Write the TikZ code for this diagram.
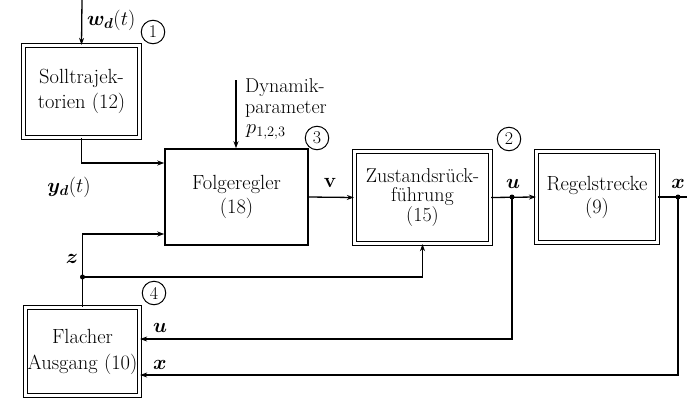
\RequirePackage{fix-cm}
\documentclass[tikz,border=0pt]{standalone}
\usepackage{amsmath,bm}
\usetikzlibrary{arrows.meta,calc}
\begin{document}
\begin{tikzpicture}[x=1pt,y=-1pt,
  every node/.style={font=\fontsize{20.5}{24.5}\selectfont},
  blockone/.style={draw,line width=1.5pt,align=center,inner sep=0pt},
  blocktwo/.style={draw,double,double distance=2.8pt,line width=1.3pt,align=center,inner sep=0pt},
  wire/.style={line width=1.3pt},
  arr/.style={wire,-{Stealth[length=7pt,width=5pt]}},
  numcirc/.style={draw,circle,line width=1pt,minimum size=23.5pt,inner sep=0pt,font=\fontsize{18}{18}\selectfont},
  lab/.style={inner sep=0pt},
  jdot/.style={circle,fill,inner sep=0pt,minimum size=5pt}]
\useasboundingbox (0,0) rectangle (687,399);
% blocks
\node[blocktwo,minimum width=116pt,minimum height=92pt] (sol) at (81.5,91.5) {Solltrajek-\\torien (12)};
\node[blockone,minimum width=143pt,minimum height=96pt] (fol) at (236.5,197) {Folgeregler\\(18)};
\node[blocktwo,minimum width=136pt,minimum height=92pt,font=\fontsize{20}{19}\selectfont] (zus) at (422.5,197.5) {Zustandsrück-\\führung\\(15)};
\node[blocktwo,minimum width=121pt,minimum height=91pt,font=\fontsize{20.5}{23}\selectfont] (reg) at (597,197) {Regelstrecke\\(9)};
\node[blocktwo,minimum width=114pt,minimum height=88pt,font=\fontsize{20.5}{26}\selectfont] (fla) at (82.5,351.5) {Flacher\\Ausgang (10)};
% coordinates
\coordinate (wtop) at (82,0);
\coordinate (dtop) at (236,80);
\coordinate (ju) at (512,197);
\coordinate (jx) at (678,197);
\coordinate (xend) at (687,197);
\coordinate (jz) at (82.5,277);
% connectors
\draw[arr] (wtop) -- (sol.north);
\draw[arr] (sol.south) |- ([yshift=34pt]fol.west);
\draw[arr] (dtop) -- (dtop |- fol.north);
\draw[arr] (fol.east) -- (zus.west);
\draw[arr] (zus.east) -- (reg.west);
\draw[wire] (reg.east) -- (xend);
\draw[arr] (jx) |- ([yshift=-23.5pt]fla.east);
\draw[arr] (ju) |- ([yshift=12.5pt]fla.east);
\draw[arr] (fla.north) |- ([yshift=-37pt]fol.west);
\draw[arr] (jz) -| (zus.south);
\node[jdot] at (ju) {};
\node[jdot] at (jx) {};
\node[jdot] at (jz) {};
% labels
\node[lab,anchor=west] (lw) at (87,20) {$\bm{w}_{\bm{d}}(t)$};
\node[numcirc] (c1) at (153,32) {1};
\node[lab] (lyd) at (69,187) {$\bm{y}_{\bm{d}}(t)$};
\node[lab,anchor=west,align=left,font=\fontsize{20}{21}\selectfont] (ldyn) at (245,98) {Dynamik-\\parameter};
\node[lab,anchor=west] (lp) at (246,132) {$p_{1,2,3}$};
\node[numcirc] (c3) at (317,138) {3};
\node[lab] (lv) at (330,183) {$\mathbf{v}$};
\node[numcirc] (c2) at (509,139) {2};
\node[lab] (lu) at (513,184) {$\bm{u}$};
\node[lab] (lx) at (678,184) {$\bm{x}$};
\node[lab] (lz) at (72,259) {$\bm{z}$};
\node[numcirc] (c4) at (154,293) {4};
\node[lab] (lu2) at (160,328) {$\bm{u}$};
\node[lab] (lx2) at (160,365) {$\bm{x}$};
\end{tikzpicture}
\end{document}
